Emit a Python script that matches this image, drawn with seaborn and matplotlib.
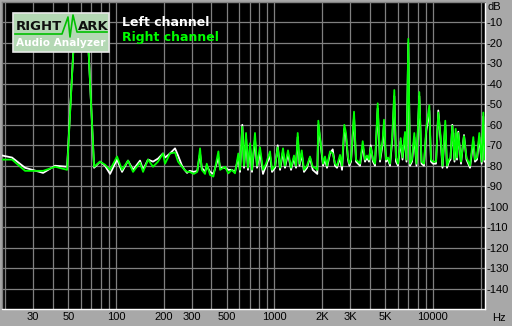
import matplotlib
matplotlib.use("Agg")
import matplotlib.pyplot as plt
from matplotlib.patches import Rectangle
from matplotlib.lines import Line2D
import pandas as pd
import seaborn as sns

# ---------------- data ----------------
freq_hz = [19.1, 22.1, 26.7, 34.7, 41.3, 49.2, 55.2, 65.7, 72.8, 79.4, 85.3, 91.8,
           101.6, 109.3, 119.2, 128.2, 141.9, 148.3, 159.4, 171.4, 184.3, 198.2, 204.1,
           219.4, 236, 246.5, 261.2, 271, 281, 292, 310, 326, 339.4, 348, 365, 374,
           392.5, 412, 443, 454, 488, 512, 538, 564, 592,
           606.7, 627, 643, 662, 681, 702, 722, 754, 777, 811, 847, 885, 938, 966,
           1009, 1049, 1085, 1133, 1166, 1218, 1273, 1329, 1369, 1403, 1440, 1487,
           1537, 1606, 1677, 1744, 1804, 1865, 1892, 1920, 1968, 2026, 2085, 2147,
           2243, 2333, 2412, 2483, 2594, 2671, 2761, 2830, 2913, 2969, 3043, 3179,
           3273, 3368, 3468, 3607, 3729, 3839, 3952, 4052, 4190, 4313, 4485, 4637,
           4824, 4915, 5060, 5209, 5362, 5544, 5708, 5850, 6024, 6263, 6430, 6668,
           6814, 6995, 7170, 7381, 7631, 7880, 8208, 8475, 8787, 9085, 9491, 9728,
           10014, 10461, 10817, 11200, 11497, 11970, 12272, 12634, 12912, 13253,
           13688, 13926, 14191, 14465, 15043, 15714, 16293, 17143, 17985, 18434,
           18977, 19621, 20320, 20617, 20797, 21165, 21317]

right_db = [-77, -77, -82.5, -82.5, -80.5, -82, -8, -8, -80.5, -78, -79.5, -82,
            -75.5, -82, -77.5, -83, -78.5, -83, -77, -80.5, -78, -74, -79,
            -74, -73.5, -78, -80.5, -82, -83, -83, -84, -83, -71.5, -82, -84, -79,
            -84.5, -85.3, -73, -82, -80.5, -83.7, -82, -83.7, -74,
            -82, -61, -80, -64, -81, -69, -82, -64, -80, -71, -82, -79, -73, -82,
            -80, -71, -81, -71.5, -80, -72.5, -81, -75, -80, -64, -79, -72.5,
            -82, -80, -75.5, -80.5, -81, -82, -58, -62.5, -70, -79, -75.5, -80,
            -73, -74, -79, -80, -74.7, -80, -60, -64, -76, -79, -77, -53.6,
            -77, -78, -79, -68, -77, -75, -77, -71, -77, -79, -49.5, -77,
            -67, -57.5, -77, -76, -79, -65, -43, -76, -79, -66.5, -76, -63.5,
            -77, -18, -79, -77, -64, -79, -44, -78, -79, -61, -50.5, -77,
            -78, -78, -54, -66, -80, -58, -80, -77, -76, -60.5,
            -77, -62, -76, -64, -78, -65.5, -76, -80, -66, -77,
            -76, -64, -78, -62.5, -54, -77, -77]

left_db = [-75, -76, -81, -83.5, -80, -80.5, -8, -8, -81, -78, -80, -84,
           -77, -83, -77.5, -82, -77.5, -82, -77, -78, -76.5, -74, -76,
           -74, -71.5, -75, -80, -82, -83.5, -82.5, -83, -82.5, -74, -81, -83, -80,
           -83, -84, -76, -81, -81, -82, -82, -83, -76,
           -83, -60, -81, -66, -82, -71, -83, -67, -81, -73, -84, -80, -75, -83,
           -81, -70, -82, -73, -81, -74, -82, -76, -81, -66, -80, -74,
           -83, -81, -76, -82, -83, -84, -60, -64, -71, -80, -77, -81,
           -74, -72, -80, -81, -76, -82, -62, -66, -77, -80, -78, -56,
           -78, -79, -80, -70, -78, -76, -78, -70, -78, -80, -52, -78,
           -69, -60, -78, -77, -80, -67, -46, -78, -80, -68, -77, -65,
           -78, -20, -80, -78, -66, -80, -46, -79, -80, -63, -53, -78,
           -79, -79, -53, -68, -81, -60, -81, -78, -77, -60,
           -78, -64, -77, -63.4, -79, -65, -77, -81, -68, -78,
           -77, -66, -79, -64, -56, -78, -78]

x_grid = [20, 30, 40, 50, 60, 70, 80, 90, 100, 200, 300, 400, 500, 600, 700, 800,
          900, 1000, 2000, 3000, 4000, 5000, 6000, 7000, 8000, 9000, 10000, 20000]
x_labels = {30: "30", 50: "50", 100: "100", 200: "200", 300: "300", 500: "500",
            1000: "1000", 2000: "2K", 3000: "3K", 5000: "5K", 10000: "10000"}
y_ticks = [-10, -20, -30, -40, -50, -60, -70, -80, -90, -100, -110, -120, -130, -140]

df = pd.DataFrame({"freq": freq_hz, "left": left_db, "right": right_db})

# ---------------- figure ----------------
W, H = 512, 326
BG = "#a8a8a8"
fig = plt.figure(figsize=(W / 100, H / 100), dpi=100, facecolor=BG)
ax = fig.add_axes([2 / W, 17 / H, 483 / W, 307 / H])
ax.set_facecolor("black")

sns.lineplot(data=df, x="freq", y="left", ax=ax, color="white", lw=1.3,
             estimator=None, sort=False, zorder=3)
sns.lineplot(data=df, x="freq", y="right", ax=ax, color="#00ff00", lw=1.3,
             estimator=None, sort=False, zorder=4)

ax.set_xscale("log")
ax.set_xlim(19.1, 21320)
ax.set_ylim(-150, 0)
ax.set_xlabel("")
ax.set_ylabel("")

font = "Liberation Sans"
ax.set_xticks(x_grid)
ax.set_xticklabels([x_labels.get(v, "") for v in x_grid], fontsize=8, family=font,
                   color="black")
ax.xaxis.set_minor_locator(matplotlib.ticker.NullLocator())
ax.set_yticks(y_ticks)
ax.set_yticklabels([str(v) for v in y_ticks], fontsize=8, family=font, color="black")
ax.yaxis.tick_right()
ax.tick_params(axis="both", length=0)
ax.tick_params(axis="y", pad=1)
ax.tick_params(axis="x", pad=2)
ax.grid(True, color="#808080", lw=0.9, zorder=1)

for s in ("left", "top"):
    ax.spines[s].set_color("#808080")
    ax.spines[s].set_linewidth(1)
for s in ("right", "bottom"):
    ax.spines[s].set_color("white")
    ax.spines[s].set_linewidth(1)


def fx(x):
    return x / W


def fy(y):
    return 1 - y / H


fig.text(fx(487), fy(7), "dB", fontsize=8, family=font, va="center", ha="left")
fig.text(fx(492), fy(318), "Hz", fontsize=8, family=font, va="center", ha="left")

# logo
fig.add_artist(Rectangle((fx(12.5), fy(52)), 96.5 / W, 39.5 / H, transform=fig.transFigure,
                         facecolor="#b4d8b4", edgecolor="#e8e8e8", lw=1.2, zorder=10))
fig.text(fx(39), fy(27), "RIGHT", fontsize=9.5, weight="bold", color="#101010",
         ha="center", va="center", zorder=11, family="DejaVu Sans")
fig.text(fx(93), fy(27), "ARK", fontsize=9.5, weight="bold", color="#101010",
         ha="center", va="center", zorder=11, family="DejaVu Sans")
wave_x = [15, 62, 68, 70, 73, 77, 107]
wave_y = [34, 34, 17, 37, 15, 32, 32]
fig.add_artist(Line2D([fx(v) for v in wave_x], [fy(v) for v in wave_y],
                      transform=fig.transFigure, color="#00c000", lw=1.2, zorder=11))
fig.text(fx(61), fy(43.5), "Audio Analyzer", fontsize=7.6, weight="bold", color="white",
         ha="center", va="center", zorder=11, family="DejaVu Sans")

# legend text
fig.text(fx(122), fy(22), "Left channel", fontsize=9, weight="bold", color="white",
         ha="left", va="center", zorder=11, family="DejaVu Sans")
fig.text(fx(122), fy(38), "Right channel", fontsize=9, weight="bold", color="#00ff00",
         ha="left", va="center", zorder=11, family="DejaVu Sans")

fig.savefig("out.png", dpi=100, facecolor=BG)
